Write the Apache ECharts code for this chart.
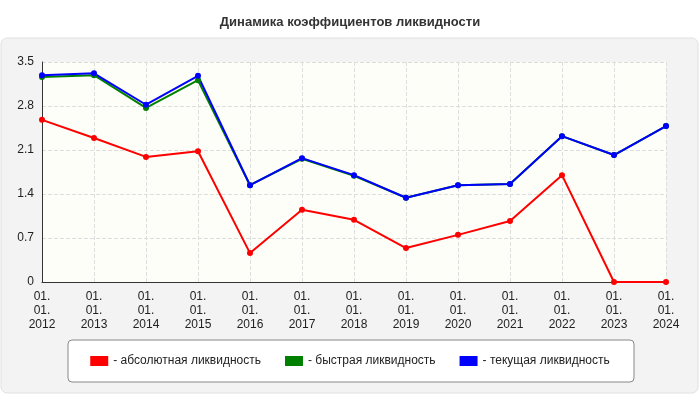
<!DOCTYPE html>
<html><head><meta charset="utf-8">
<script src="https://cdn.jsdelivr.net/npm/echarts@6/dist/echarts.min.js"></script>
<style>body{margin:0;background:#fff}#c{width:700px;height:400px}</style></head>
<body><div id="c"></div>
<script>
const categories=["01.\n01.\n2012","01.\n01.\n2013","01.\n01.\n2014","01.\n01.\n2015","01.\n01.\n2016","01.\n01.\n2017","01.\n01.\n2018","01.\n01.\n2019","01.\n01.\n2020","01.\n01.\n2021","01.\n01.\n2022","01.\n01.\n2023","01.\n01.\n2024"];
const absolute=[2.58,2.29,1.99,2.08,0.46,1.15,0.99,0.54,0.75,0.97,1.70,0,0];
const quick=[3.26,3.29,2.77,3.21,1.54,1.96,1.69,1.34,1.54,1.56,2.32,2.02,2.48];
const current=[3.29,3.32,2.82,3.28,1.54,1.97,1.70,1.34,1.54,1.56,2.32,2.02,2.48];
const names=["- абсолютная ликвидность","- быстрая ликвидность","- текущая ликвидность"];
const colors=["#ff0000","#008000","#0000ff"];
const chart=echarts.init(document.getElementById('c'));
const mk=(n,d,c)=>({name:n,type:'line',data:d,symbol:'circle',symbolSize:6,itemStyle:{color:c},lineStyle:{color:c,width:2}});
chart.setOption({
 textStyle:{fontFamily:'Liberation Sans, Arial, sans-serif'},
 graphic:[{type:'rect',shape:{x:1,y:38,width:697,height:355,r:6},style:{fill:'#f3f3f3',stroke:'#e0e0e0'},z:-10},
  {type:'rect',shape:{x:42,y:62,width:624,height:220},style:{fill:'#fefef8'},z:-9},
  {type:'rect',shape:{x:68,y:340,width:566,height:42,r:4},style:{fill:'#fff',stroke:'#888'},z:-8}],
 title:{text:'Динамика коэффициентов ликвидности',left:'center',top:11,textStyle:{fontSize:13,fontWeight:'bold',color:'#333',fontFamily:'Liberation Sans, Arial, sans-serif'}},
 grid:{left:42,right:34,top:62,bottom:118},
 legend:{top:350,left:'center',itemGap:24,itemWidth:18,itemHeight:10,icon:'rect',textStyle:{fontSize:12,color:'#222'},data:names},
 xAxis:{type:'category',boundaryGap:false,data:categories,axisLine:{lineStyle:{color:'#333'}},axisTick:{show:false},
  axisLabel:{color:'#222',fontSize:12,lineHeight:14,interval:0},splitLine:{show:true,lineStyle:{type:'dashed',color:'#ddd'}}},
 yAxis:{type:'value',min:0,max:3.5,interval:0.7,axisLine:{show:true,lineStyle:{color:'#333'}},
  axisLabel:{color:'#222',fontSize:12,formatter:v=>String(+v.toFixed(1))},splitLine:{lineStyle:{type:'dashed',color:'#ddd'}}},
 series:[mk(names[0],absolute,colors[0]),mk(names[1],quick,colors[1]),mk(names[2],current,colors[2])]
});
</script></body></html>
